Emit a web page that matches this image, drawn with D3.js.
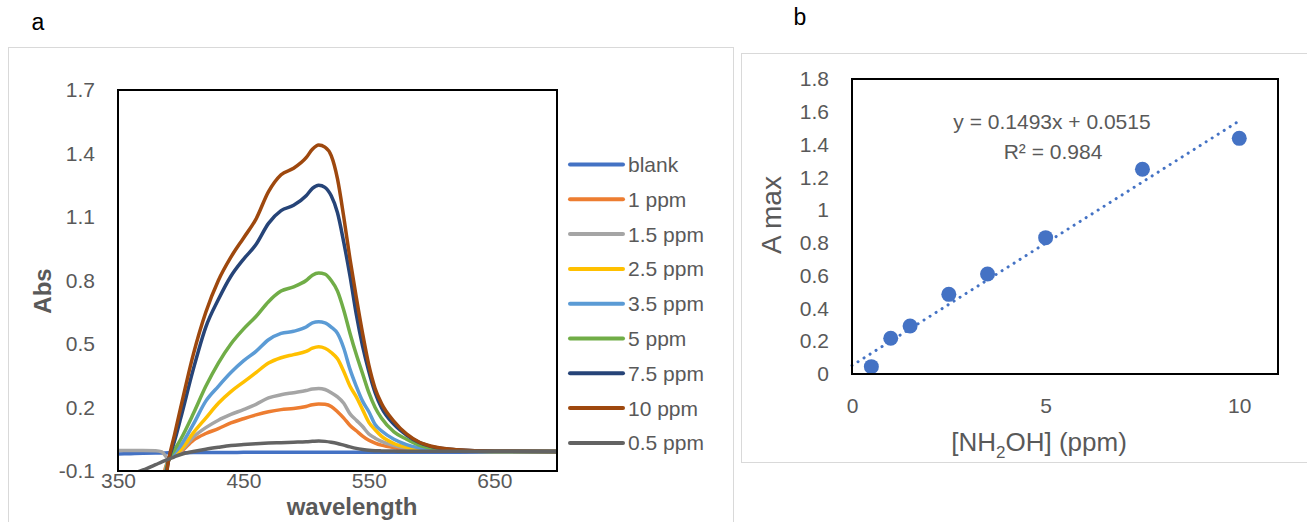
<!DOCTYPE html>
<html>
<head>
<meta charset="utf-8">
<script src="https://cdn.jsdelivr.net/npm/d3@7"></script>
<style>
  body { margin: 0; background: #fff; }
  text { font-family: "Liberation Sans", Arial, sans-serif; }
</style>
</head>
<body>
<script>
// ---- panel a: absorption spectra ----
var wavelengths = [350,360,370,380,385,390,395,400,410,420,430,440,450,460,470,480,490,500,505,510,515,520,525,530,535,540,545,550,555,560,570,580,590,600,620,650,700];

var blank  = [-0.02,-0.018,-0.016,-0.015,-0.015,-0.014,-0.014,-0.014,-0.013,-0.013,-0.013,-0.013,-0.012,-0.012,-0.012,-0.012,-0.012,-0.012,-0.012,-0.012,-0.012,-0.012,-0.012,-0.012,-0.012,-0.012,-0.011,-0.011,-0.011,-0.011,-0.011,-0.011,-0.011,-0.011,-0.011,-0.011,-0.011];
var ppm1   = [null,null,null,null,-0.15,-0.05,-0.028,-0.01,0.045,0.077,0.10,0.127,0.147,0.165,0.18,0.19,0.195,0.205,0.213,0.217,0.215,0.205,0.18,0.15,0.115,0.09,0.065,0.045,0.032,0.022,0.01,0.003,-0.002,-0.005,-0.007,-0.008,-0.008];
var ppm1_5 = [-0.003,-0.003,-0.003,-0.004,-0.01,-0.04,-0.025,-0.005,0.06,0.105,0.14,0.167,0.19,0.215,0.245,0.26,0.27,0.28,0.287,0.29,0.285,0.27,0.25,0.22,0.17,0.14,0.11,0.075,0.055,0.04,0.02,0.008,0.0,-0.004,-0.007,-0.008,-0.008];
var ppm2_5 = [null,null,null,null,-0.18,-0.05,-0.02,0.0,0.08,0.15,0.22,0.275,0.32,0.365,0.41,0.435,0.45,0.465,0.48,0.487,0.48,0.46,0.43,0.37,0.30,0.25,0.19,0.13,0.095,0.065,0.03,0.012,0.003,-0.002,-0.006,-0.008,-0.008];
var ppm3_5 = [null,null,null,null,-0.2,-0.05,-0.015,0.02,0.12,0.23,0.30,0.365,0.42,0.465,0.52,0.55,0.56,0.58,0.60,0.605,0.60,0.58,0.55,0.48,0.38,0.30,0.23,0.18,0.12,0.09,0.05,0.025,0.01,0.002,-0.005,-0.008,-0.008];
var ppm5   = [null,null,null,null,-0.24,-0.055,0.0,0.05,0.17,0.30,0.41,0.50,0.57,0.63,0.70,0.75,0.77,0.80,0.825,0.835,0.83,0.80,0.75,0.66,0.55,0.45,0.36,0.27,0.20,0.15,0.085,0.05,0.022,0.008,-0.003,-0.008,-0.008];
var ppm7_5 = [null,null,null,null,-0.28,-0.06,0.04,0.15,0.38,0.58,0.71,0.82,0.90,0.97,1.07,1.13,1.155,1.20,1.235,1.25,1.24,1.20,1.12,0.98,0.82,0.64,0.49,0.37,0.27,0.20,0.12,0.07,0.035,0.015,0.0,-0.007,-0.008];
var ppm10  = [null,null,null,null,-0.3,-0.06,0.07,0.2,0.45,0.65,0.80,0.91,1.0,1.09,1.22,1.30,1.33,1.38,1.42,1.44,1.43,1.39,1.28,1.10,0.90,0.72,0.55,0.40,0.29,0.22,0.135,0.075,0.037,0.017,0.0,-0.007,-0.008];
var ppm0_5 = [-0.135,-0.115,-0.095,-0.07,-0.057,-0.045,-0.033,-0.022,-0.008,0.003,0.012,0.02,0.025,0.029,0.032,0.034,0.036,0.038,0.04,0.042,0.04,0.036,0.03,0.022,0.014,0.007,0.002,-0.002,-0.004,-0.005,-0.006,-0.007,-0.007,-0.007,-0.007,-0.007,-0.007];

var seriesNames  = ["blank","1 ppm","1.5 ppm","2.5 ppm","3.5 ppm","5 ppm","7.5 ppm","10 ppm","0.5 ppm"];
var seriesValues = [blank, ppm1, ppm1_5, ppm2_5, ppm3_5, ppm5, ppm7_5, ppm10, ppm0_5];
var seriesColors = ["#4472C4","#ED7D31","#A5A5A5","#FFC000","#5B9BD5","#70AD47","#264478","#9E480E","#636363"];

var absTicks = [-0.1, 0.2, 0.5, 0.8, 1.1, 1.4, 1.7];
var waveTicks = [350, 450, 550, 650];

// ---- panel b: calibration ----
var conc = [0.5, 1, 1.5, 2.5, 3.5, 5, 7.5, 10];
var amax = [0.045, 0.218, 0.293, 0.486, 0.61, 0.832, 1.249, 1.438];
var slope = 0.1493, intercept = 0.0515;
var amaxTicks = [0, 0.2, 0.4, 0.6, 0.8, 1, 1.2, 1.4, 1.6, 1.8];
var concTicks = [0, 5, 10];

var grey = "#595959";

var svg = d3.select("body").append("svg")
  .attr("width", 1307)
  .attr("height", 522);

// panel frames
svg.append("rect").attr("x", 8.5).attr("y", 47.5).attr("width", 725).attr("height", 500)
  .attr("fill", "none").attr("stroke", "#d9d9d9");
svg.append("rect").attr("x", 741.5).attr("y", 53.5).attr("width", 600).attr("height", 409)
  .attr("fill", "none").attr("stroke", "#d9d9d9");

svg.append("text").attr("x", 38).attr("y", 30).attr("text-anchor", "middle")
  .style("font-size", "23px").text("a");
svg.append("text").attr("x", 800).attr("y", 25).attr("text-anchor", "middle")
  .style("font-size", "23px").text("b");

// ===== panel a =====
var a = { left: 118, right: 557, top: 90, bottom: 471 };
var xa = d3.scaleLinear().domain([350, 700]).range([a.left, a.right]);
var ya = d3.scaleLinear().domain([-0.1, 1.7]).range([a.bottom, a.top]);

svg.append("defs").append("clipPath").attr("id", "clipA")
  .append("rect").attr("x", a.left).attr("y", a.top)
  .attr("width", a.right - a.left).attr("height", a.bottom - a.top);

var line = d3.line()
  .defined(function(d) { return d[1] !== null; })
  .x(function(d) { return xa(d[0]); })
  .y(function(d) { return ya(d[1]); })
  .curve(d3.curveMonotoneX);

var gLines = svg.append("g").attr("clip-path", "url(#clipA)");
seriesValues.forEach(function(vals, i) {
  var pts = wavelengths.map(function(w, j) { return [w, vals[j]]; });
  gLines.append("path")
    .attr("d", line(pts))
    .attr("fill", "none")
    .attr("stroke", seriesColors[i])
    .attr("stroke-width", 3.5)
    .attr("stroke-linejoin", "round");
});

svg.append("rect").attr("x", a.left).attr("y", a.top)
  .attr("width", a.right - a.left).attr("height", a.bottom - a.top)
  .attr("fill", "none").attr("stroke", "#000").attr("stroke-width", 2);

var axA = svg.append("g").attr("transform", "translate(" + a.left + ",0)")
  .call(d3.axisLeft(ya).tickValues(absTicks).tickSize(0).tickPadding(23)
    .tickFormat(function(d) { return d3.format(".1f")(d).replace("−", "-"); }));
var axAx = svg.append("g").attr("transform", "translate(0," + a.bottom + ")")
  .call(d3.axisBottom(xa).tickValues(waveTicks).tickSize(0).tickPadding(2));
[axA, axAx].forEach(function(g) {
  g.select(".domain").remove();
  g.selectAll("text").style("font-size", "21px").attr("fill", grey)
    .style("font-family", "'Liberation Sans', Arial, sans-serif");
});

svg.append("text").attr("x", 352).attr("y", 515).attr("text-anchor", "middle")
  .attr("fill", grey).style("font-size", "24px").style("font-weight", "bold").text("wavelength");
svg.append("text").attr("transform", "translate(51,291) rotate(-90)").attr("text-anchor", "middle")
  .attr("fill", grey).style("font-size", "24px").style("font-weight", "bold").text("Abs");

// legend
var leg = svg.append("g");
seriesNames.forEach(function(name, i) {
  var y = 164.5 + i * 34.8;
  leg.append("line").attr("x1", 570).attr("x2", 623).attr("y1", y).attr("y2", y)
    .attr("stroke", seriesColors[i]).attr("stroke-width", 4).attr("stroke-linecap", "round");
  leg.append("text").attr("x", 628).attr("y", y + 7.5).attr("fill", grey)
    .style("font-size", "21px").text(name);
});

// ===== panel b =====
var b = { left: 852, right: 1278, top: 79, bottom: 374 };
var xb = d3.scaleLinear().domain([0, 11]).range([b.left, b.right]);
var yb = d3.scaleLinear().domain([0, 1.8]).range([b.bottom, b.top]);

// trendline
svg.append("line")
  .attr("x1", xb(0)).attr("y1", yb(intercept))
  .attr("x2", xb(10)).attr("y2", yb(slope * 10 + intercept))
  .attr("stroke", "#4472C4").attr("stroke-width", 3)
  .attr("stroke-dasharray", "0.1 7").attr("stroke-linecap", "round");

svg.append("g").selectAll("circle")
  .data(conc)
  .enter()
    .append("circle")
    .attr("cx", function(d) { return xb(d); })
    .attr("cy", function(d, i) { return yb(amax[i]); })
    .attr("r", 7.5)
    .attr("fill", "#4472C4");

svg.append("rect").attr("x", b.left).attr("y", b.top)
  .attr("width", b.right - b.left).attr("height", b.bottom - b.top)
  .attr("fill", "none").attr("stroke", "#000").attr("stroke-width", 2);

var axB = svg.append("g").attr("transform", "translate(" + b.left + ",0)")
  .call(d3.axisLeft(yb).tickValues(amaxTicks).tickSize(0).tickPadding(23).tickFormat(d3.format("")));
var axBx = svg.append("g").attr("transform", "translate(0," + b.bottom + ")")
  .call(d3.axisBottom(xb).tickValues(concTicks).tickSize(0).tickPadding(24));
[axB, axBx].forEach(function(g) {
  g.select(".domain").remove();
  g.selectAll("text").style("font-size", "21px").attr("fill", grey)
    .style("font-family", "'Liberation Sans', Arial, sans-serif");
});

svg.append("text").attr("x", 1052).attr("y", 129).attr("text-anchor", "middle")
  .attr("fill", grey).style("font-size", "21px")
  .text("y = " + slope + "x + " + intercept);
svg.append("text").attr("x", 1053).attr("y", 159).attr("text-anchor", "middle")
  .attr("fill", grey).style("font-size", "21px").text("R² = 0.984");

var xt = svg.append("text").attr("x", 1039).attr("y", 451).attr("text-anchor", "middle")
  .attr("fill", grey).style("font-size", "26px");
xt.append("tspan").text("[NH");
xt.append("tspan").attr("dy", 7).style("font-size", "17px").text("2");
xt.append("tspan").attr("dy", -7).text("OH] (ppm)");

svg.append("text").attr("transform", "translate(781,215) rotate(-90)").attr("text-anchor", "middle")
  .attr("fill", grey).style("font-size", "28px").text("A max");
</script>
</body>
</html>
